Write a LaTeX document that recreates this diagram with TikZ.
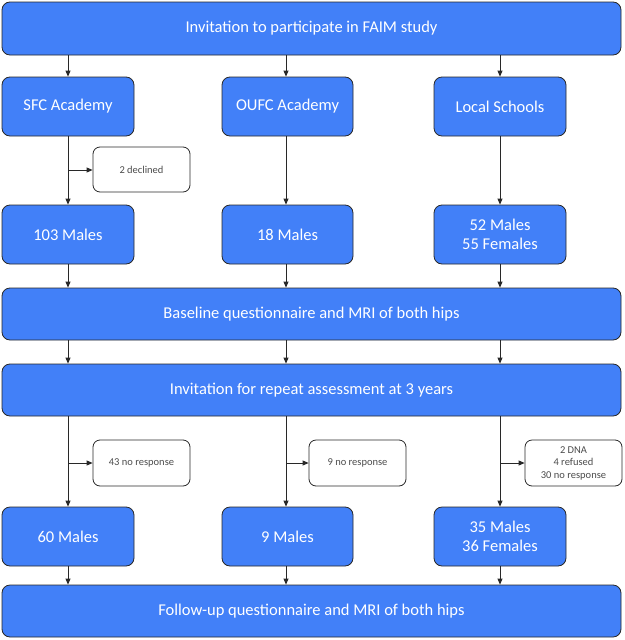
\documentclass[tikz,border=0pt]{standalone}
\usepackage{fontspec}
\setmainfont{Carlito}
\usetikzlibrary{arrows.meta}
\definecolor{boxblue}{RGB}{66,128,248}
\definecolor{edge}{RGB}{40,40,40}
\begin{document}
\begin{tikzpicture}[x=1pt,y=-1pt,
  bluebox/.style={draw=edge,line width=0.8pt,fill=boxblue,rounded corners=8pt,text=white,font=\fontsize{16.5}{19.5}\selectfont,align=center,inner sep=0pt},
  notebox/.style={draw=edge,line width=0.8pt,fill=white,rounded corners=7pt,text=black!70,font=\fontsize{10.5}{12.5}\selectfont,align=center,inner sep=0pt},
  conn/.style={draw=edge,line width=0.8pt,-{Triangle[length=6pt,width=5pt]}}]
\useasboundingbox (0,0) rectangle (624,640);
% wide boxes
\node[bluebox,minimum width=619pt,minimum height=53pt] (top) at (311.5,28.5) {Invitation to participate in FAIM study};
\node[bluebox,minimum width=619pt,minimum height=52pt] (base) at (311.5,314) {Baseline questionnaire and MRI of both hips};
\node[bluebox,minimum width=619pt,minimum height=52pt] (rep) at (311.5,390) {Invitation for repeat assessment at 3 years};
\node[bluebox,minimum width=619pt,minimum height=52pt] (fol) at (311.5,611) {Follow-up questionnaire and MRI of both hips};
% row 2
\node[bluebox,minimum width=132pt,minimum height=59pt] (sfc) at (68,106.5) {SFC Academy};
\node[bluebox,minimum width=131pt,minimum height=59pt] (oufc) at (287.5,106.5) {OUFC Academy};
\node[bluebox,minimum width=132pt,minimum height=59pt] (loc) at (500,106.5) {Local Schools};
% row 3
\node[bluebox,minimum width=132pt,minimum height=59pt] (m103) at (68,234.5) {103 Males};
\node[bluebox,minimum width=131pt,minimum height=59pt] (m18) at (287.5,234.5) {18 Males};
\node[bluebox,minimum width=132pt,minimum height=59pt] (m52) at (500,234.5) {52 Males\\55 Females};
% row 5
\node[bluebox,minimum width=132pt,minimum height=59pt] (m60) at (68,536.5) {60 Males};
\node[bluebox,minimum width=131pt,minimum height=59pt] (m9) at (287.5,536.5) {9 Males};
\node[bluebox,minimum width=132pt,minimum height=59pt] (m35) at (500,536.5) {35 Males\\36 Females};
% notes
\node[notebox,minimum width=97pt,minimum height=45pt] (dec) at (141.5,169.5) {2 declined};
\node[notebox,minimum width=97pt,minimum height=46pt] (n43) at (141.5,463) {43 no response};
\node[notebox,minimum width=97pt,minimum height=46pt] (n9) at (357.5,463) {9 no response};
\node[notebox,minimum width=97pt,minimum height=46pt] (n36) at (573.5,463) {2 DNA\\4 refused\\30 no response};
% side coordinates
\coordinate (s1) at (68,170);
\coordinate (s2) at (68,463);
\coordinate (s3) at (286,463);
\coordinate (s4) at (500,463);
% vertical connectors
\foreach \x/\a/\b in {68/top/sfc,286/top/oufc,500/top/loc,
                      68/sfc/m103,286/oufc/m18,500/loc/m52,
                      68/m103/base,286/m18/base,500/m52/base,
                      68/base/rep,286/base/rep,500/base/rep,
                      68/rep/m60,286/rep/m9,500/rep/m35,
                      68/m60/fol,286/m9/fol,500/m35/fol}{
  \draw[conn] (\a.south -| \x,0) -- (\b.north -| \x,0);
}
% side connectors
\draw[conn] (s1) -- (s1 -| dec.west);
\draw[conn] (s2) -- (s2 -| n43.west);
\draw[conn] (s3) -- (s3 -| n9.west);
\draw[conn] (s4) -- (s4 -| n36.west);
\end{tikzpicture}
\end{document}
